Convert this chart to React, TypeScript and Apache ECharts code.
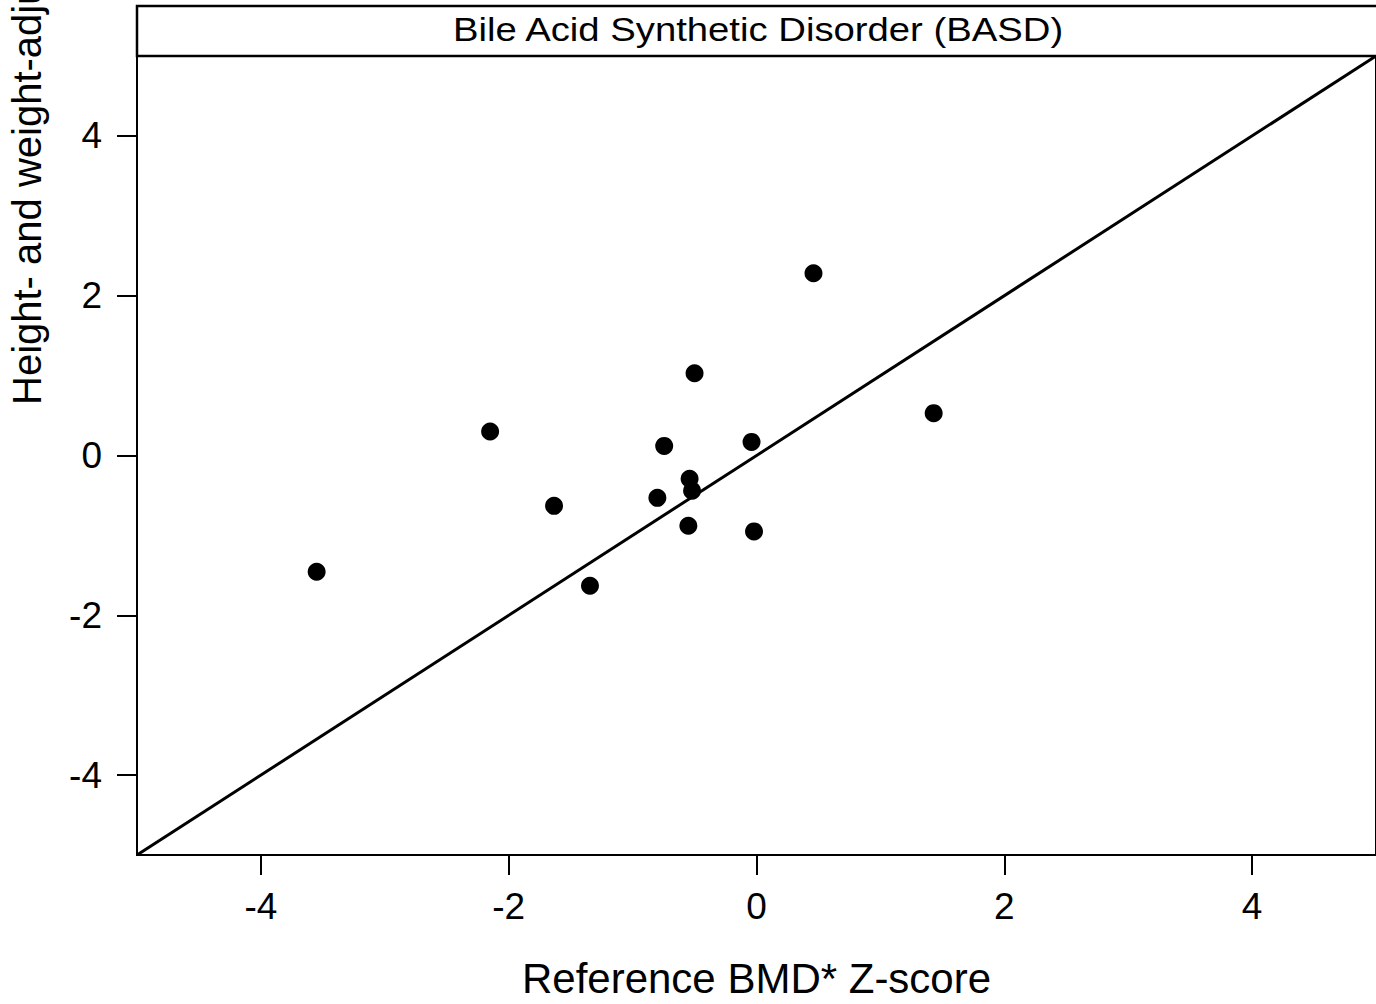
import React, { useEffect, useRef } from "react";
import * as echarts from "echarts";

const stripTitle = "Bile Acid Synthetic Disorder (BASD)";
const xTitle = "Reference BMD* Z-score";
const yTitle = "Height- and weight-adjusted BMD Z-score";

const xValues = [-3.55, -2.15, -1.634, -1.344, -0.8, -0.745, -0.55, -0.54, -0.52, -0.5, -0.04, -0.02, 0.46, 1.43];
const yValues = [-1.455, 0.3, -0.63, -1.63, -0.53, 0.12, -0.88, -0.29, -0.44, 1.03, 0.17, -0.95, 2.28, 0.53];

const tickValues = [-4, -2, 0, 2, 4];
const axisRange = [-5, 5];
const identityLine = [-5, 5];

const FONT = "Liberation Sans, Arial, sans-serif";

export default function App() {
  const ref = useRef<HTMLDivElement>(null);
  useEffect(() => {
    document.body.style.margin = "0";
    const chart = echarts.init(ref.current!, null, { renderer: "svg" });
    const points = xValues.map((x, i) => [x, yValues[i]]);
    const line = identityLine.map((v) => [v, v]);
    const gridLeft = 137;
    const gridTop = 56;
    const gridWidth = 1241;
    const gridHeight = 800;
    const axisCommon = {
      type: "value" as const,
      min: axisRange[0],
      max: axisRange[1],
      splitLine: { show: false },
      axisLine: { show: true, onZero: false, lineStyle: { color: "#000", width: 2 } },
      axisTick: { show: true, customValues: tickValues, length: 20, lineStyle: { color: "#000", width: 2 } },
    };
    chart.setOption({
      animation: false,
      backgroundColor: "#fff",
      grid: {
        left: gridLeft,
        top: gridTop,
        width: gridWidth,
        height: gridHeight,
        show: true,
        borderColor: "#000",
        borderWidth: 2,
        backgroundColor: "#fff",
      },
      xAxis: {
        ...axisCommon,
        axisLabel: { customValues: tickValues, fontSize: 37, color: "#000", fontFamily: FONT, margin: 33 },
        name: xTitle,
        nameLocation: "middle",
        nameGap: 102,
        nameTextStyle: { fontSize: 42, color: "#000", fontFamily: FONT },
      },
      yAxis: {
        ...axisCommon,
        axisLabel: { customValues: tickValues, fontSize: 37, color: "#000", fontFamily: FONT, margin: 35 },
      },
      graphic: [
        {
          type: "rect",
          shape: { x: gridLeft, y: 6, width: gridWidth + 10, height: gridTop - 6 },
          style: { fill: "#fff", stroke: "#000", lineWidth: 2.5 },
          z: 10,
        },
        {
          type: "text",
          x: 758,
          y: 30,
          scaleX: 1.16,
          style: {
            text: stripTitle,
            fontSize: 33,
            fontFamily: FONT,
            fill: "#000",
            textAlign: "center",
            textVerticalAlign: "middle",
          },
          z: 11,
        },
        {
          type: "text",
          x: 27,
          y: 405,
          rotation: Math.PI / 2,
          style: {
            text: yTitle,
            fontSize: 40,
            fontFamily: FONT,
            fill: "#000",
            textAlign: "left",
            textVerticalAlign: "middle",
          },
          z: 11,
        },
      ],
      series: [
        {
          type: "line",
          data: line,
          symbol: "none",
          lineStyle: { color: "#000", width: 3 },
          silent: true,
        },
        {
          type: "scatter",
          data: points,
          symbol: "circle",
          symbolSize: 18,
          itemStyle: { color: "#000", opacity: 1 },
        },
      ],
    });
    return () => chart.dispose();
  }, []);
  return <div ref={ref} style={{ width: 1376, height: 1004 }} />;
}
